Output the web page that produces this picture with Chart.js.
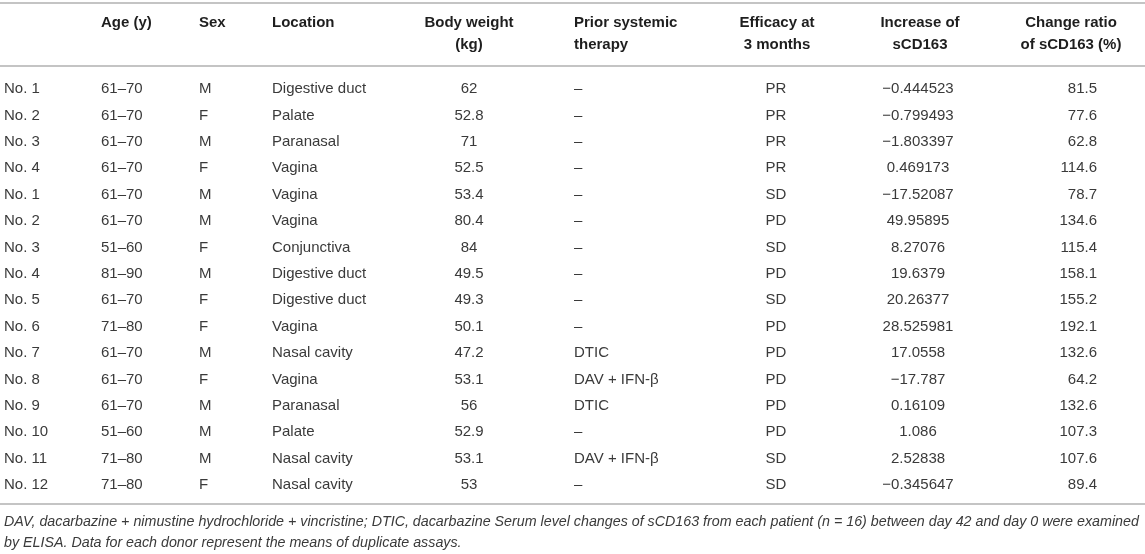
<!DOCTYPE html>
<html>
<head>
<meta charset="utf-8">
<script src="https://cdn.jsdelivr.net/npm/chart.js@4.4.1/dist/chart.umd.min.js"></script>
<style>
html,body{margin:0;padding:0;background:#fff;}
#wrap{width:1145px;height:554px;position:relative;}
</style>
</head>
<body>
<div id="wrap"><canvas id="c"></canvas></div>
<script>
// ---- data ----
const rowLabels = ["No. 1","No. 2","No. 3","No. 4","No. 1","No. 2","No. 3","No. 4","No. 5","No. 6","No. 7","No. 8","No. 9","No. 10","No. 11","No. 12"];
const ages = ["61–70","61–70","61–70","61–70","61–70","61–70","51–60","81–90","61–70","71–80","61–70","61–70","61–70","51–60","71–80","71–80"];
const sexes = ["M","F","M","F","M","M","F","M","F","F","M","F","M","M","M","F"];
const locations = ["Digestive duct","Palate","Paranasal","Vagina","Vagina","Vagina","Conjunctiva","Digestive duct","Digestive duct","Vagina","Nasal cavity","Vagina","Paranasal","Palate","Nasal cavity","Nasal cavity"];
const bodyWeights = [62,52.8,71,52.5,53.4,80.4,84,49.5,49.3,50.1,47.2,53.1,56,52.9,53.1,53];
const priorTherapy = ["–","–","–","–","–","–","–","–","–","–","DTIC","DAV + IFN-β","DTIC","–","DAV + IFN-β","–"];
const efficacy = ["PR","PR","PR","PR","SD","PD","SD","PD","SD","PD","PD","PD","PD","PD","SD","SD"];
const increaseSCD163 = [-0.444523,-0.799493,-1.803397,0.469173,-17.52087,49.95895,8.27076,19.6379,20.26377,28.525981,17.0558,-17.787,0.16109,1.086,2.52838,-0.345647];
const changeRatio = [81.5,77.6,62.8,114.6,78.7,134.6,115.4,158.1,155.2,192.1,132.6,64.2,132.6,107.3,107.6,89.4];
const headers = [
  ["",""],["Age (y)",""],["Sex",""],["Location",""],["Body weight","(kg)"],
  ["Prior systemic","therapy"],["Efficacy at","3 months"],["Increase of","sCD163"],["Change ratio","of sCD163 (%)"]
];
const footnote = [
  "DAV, dacarbazine + nimustine hydrochloride + vincristine; DTIC, dacarbazine Serum level changes of sCD163 from each patient (n = 16) between day 42 and day 0 were examined",
  "by ELISA. Data for each donor represent the means of duplicate assays."
];

// ---- layout (positions in x-scale units, styles) ----
const fmtSigned = v => (v < 0 ? "−" : "") + String(Math.abs(v));
const columns = [
  {x:4,    align:"left",   head:"left",   get:i=>rowLabels[i]},
  {x:101,  align:"left",   head:"left",   get:i=>ages[i]},
  {x:199,  align:"left",   head:"left",   get:i=>sexes[i]},
  {x:272,  align:"left",   head:"left",   get:i=>locations[i]},
  {x:469,  align:"center", head:"center", get:i=>String(bodyWeights[i])},
  {x:574,  align:"left",   head:"left",   get:i=>priorTherapy[i]},
  {x:776,  align:"center", head:"center", hx:777, get:i=>efficacy[i]},
  {x:918,  align:"center", head:"center", hx:920, get:i=>fmtSigned(increaseSCD163[i])},
  {x:1097, align:"right",  head:"center", hx:1071, get:i=>changeRatio[i].toFixed(1)}
];
const FONT = '"Liberation Sans", Arial, Helvetica, sans-serif';

const tablePlugin = {
  id: 'tablePlugin',
  afterDraw(chart) {
    const ctx = chart.ctx, xs = chart.scales.x, ys = chart.scales.y, ca = chart.chartArea;
    ctx.save();
    // rules
    ctx.strokeStyle = '#c4c4c4';
    ctx.lineWidth = 2;
    const rule = y => { ctx.beginPath(); ctx.moveTo(xs.getPixelForValue(0), y); ctx.lineTo(xs.getPixelForValue(1145), y); ctx.stroke(); };
    rule(ca.top - 86);
    rule(ca.top - 23);
    rule(ca.bottom + 19);
    // header
    ctx.textBaseline = 'middle';
    ctx.fillStyle = '#1e1e1e';
    ctx.font = 'bold 15px ' + FONT;
    columns.forEach((c, j) => {
      ctx.textAlign = c.head;
      const hx = xs.getPixelForValue(c.hx !== undefined ? c.hx : c.x);
      ctx.fillText(headers[j][0], hx, ca.top - 66);
      if (headers[j][1]) ctx.fillText(headers[j][1], hx, ca.top - 44);
    });
    // body
    ctx.fillStyle = '#3a3a3a';
    ctx.font = '15px ' + FONT;
    rowLabels.forEach((lab, i) => {
      const y = ys.getPixelForValue(i);
      columns.forEach(c => {
        ctx.textAlign = c.align;
        ctx.fillText(c.get(i), xs.getPixelForValue(c.x), y);
      });
    });
    // footnote, sized so the first line spans the table width
    ctx.font = 'italic 15px ' + FONT;
    const avail = xs.getPixelForValue(1140) - xs.getPixelForValue(4);
    const w = ctx.measureText(footnote[0]).width;
    const fs = Math.min(15, 15 * avail / w);
    ctx.fillStyle = '#3a3a3a';
    ctx.font = 'italic ' + fs.toFixed(2) + 'px ' + FONT;
    ctx.textAlign = 'left';
    ctx.fillText(footnote[0], xs.getPixelForValue(4), ca.bottom + 37);
    ctx.fillText(footnote[1], xs.getPixelForValue(4), ca.bottom + 58);
    ctx.restore();
  }
};

new Chart(document.getElementById('c'), {
  type: 'scatter',
  data: { labels: rowLabels, datasets: [] },
  options: {
    responsive: true,
    maintainAspectRatio: false,
    animation: false,
    layout: { padding: { top: 89, bottom: 69, left: 0, right: 0 } },
    plugins: { legend: { display: false }, tooltip: { enabled: false } },
    scales: {
      x: { type: 'linear', min: 0, max: 1145, display: false },
      y: { type: 'category', labels: rowLabels, offset: false, display: false }
    }
  },
  plugins: [tablePlugin]
});
</script>
</body>
</html>
